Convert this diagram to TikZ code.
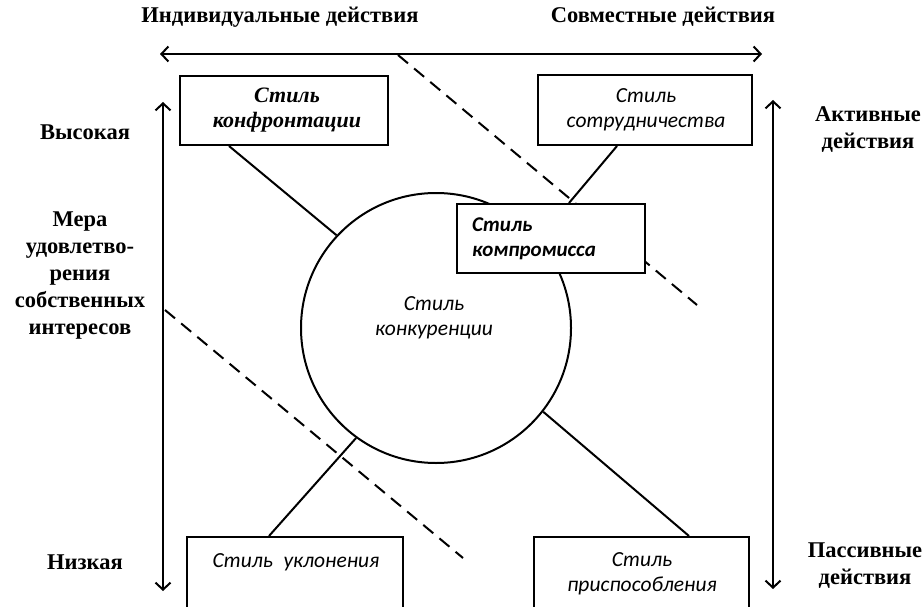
\documentclass[tikz,border=0pt]{standalone}
\usepackage{fontspec}
\setmainfont{Liberation Serif}
\newfontfamily\carl{Carlito}
\usetikzlibrary{arrows.meta,calc}
\begin{document}
\begin{tikzpicture}[x=1pt,y=-1pt,
  lab/.style={font=\fontsize{22.5}{27}\selectfont\bfseries, align=center, inner sep=0pt},
  boxtxt/.style={font=\fontsize{21.5}{25}\selectfont\carl\itshape, align=center, inner sep=0pt},
  stylebox/.style={draw, line width=2pt, fill=white, rectangle, inner sep=0pt},
  arr/.style={line width=2pt, {Straight Barb[length=7pt,width=15pt]}-{Straight Barb[length=7pt,width=15pt]}},
  conn/.style={line width=2pt},
  dsh/.style={line width=2pt, dash pattern=on 13pt off 8pt}]
\useasboundingbox (0,0) rectangle (923,607);
\clip (0,0) rectangle (923,607);
% labels
\node[lab] (tl) at (280,17) {Индивидуальные действия};
\node[lab] (tr) at (663,17) {Совместные действия};
\node[lab] (high) at (85,132) {Высокая};
\node[lab] (mera) at (80,276) {Мера\\удовлетво-\\рения\\собственных\\интересов};
\node[lab] (low) at (85,562) {Низкая};
\node[lab] (act) at (868,130) {Активные\\действия};
\node[lab] (pas) at (865,566) {Пассивные\\действия};
% arrows
\coordinate (hl) at (160,54);
\coordinate (hr) at (762,54);
\coordinate (vlt) at (163,102);
\coordinate (vlb) at (163,591);
\coordinate (vrt) at (773,100);
\coordinate (vrb) at (773,589);
\draw[arr] (hl) -- (hr);
\draw[arr] (vlt) -- (vlb);
\draw[arr] (vrt) -- (vrb);
% dashed
\coordinate (d1a) at (398,55);
\coordinate (d1b) at (697,305);
\coordinate (d2a) at (165,310);
\coordinate (d2b) at (463,558);
\draw[dsh] (d1a) -- (d1b);
\draw[dsh] (d2a) -- (d2b);
% circle
\node[draw, circle, line width=2pt, fill=white, minimum size=270pt, inner sep=0pt] (circ) at (436,328) {};
\node[boxtxt] (circt) at (434,318) {Стиль\\конкуренции};
% boxes
\node[stylebox, minimum width=208pt, minimum height=69pt] (conf) at (284,110.5) {};
\node[stylebox, minimum width=214pt, minimum height=70pt] (coop) at (645,110) {};
\node[stylebox, minimum width=188pt, minimum height=69pt] (comp) at (551,238.5) {};
\node[stylebox, minimum width=216pt, minimum height=75pt] (avoid) at (295,574.5) {};
\node[stylebox, minimum width=215pt, minimum height=75pt] (accom) at (641.5,574.5) {};
% connectors
\draw[conn] ($(conf.south west)+(50,0)$) -- (circ.137);
\draw[conn] ($(coop.south west)+(80,0)$) -- ($(comp.north west)+(113,0)$);
\draw[conn] ($(avoid.north west)+(83,0)$) -- (circ.234);
\draw[conn] ($(accom.north west)+(156,0)$) -- (circ.322);
% box texts
\node[font=\fontsize{22}{25}\selectfont\bfseries\itshape, align=center, inner sep=0pt] (conft) at (287,110.5) {Стиль\\конфронтации};
\node[boxtxt] (coopt) at (646,110) {Стиль\\сотрудничества};
\node[boxtxt, font=\fontsize{21}{25}\selectfont\carl\bfseries\itshape, align=left, anchor=west] (compt) at (472,238.5) {Стиль\\компромисса};
\node[boxtxt] (avoidt) at (296,562) {Стиль\enspace уклонения};
\node[boxtxt] (accomt) at (642,574) {Стиль\\приспособления};
\end{tikzpicture}
\end{document}
